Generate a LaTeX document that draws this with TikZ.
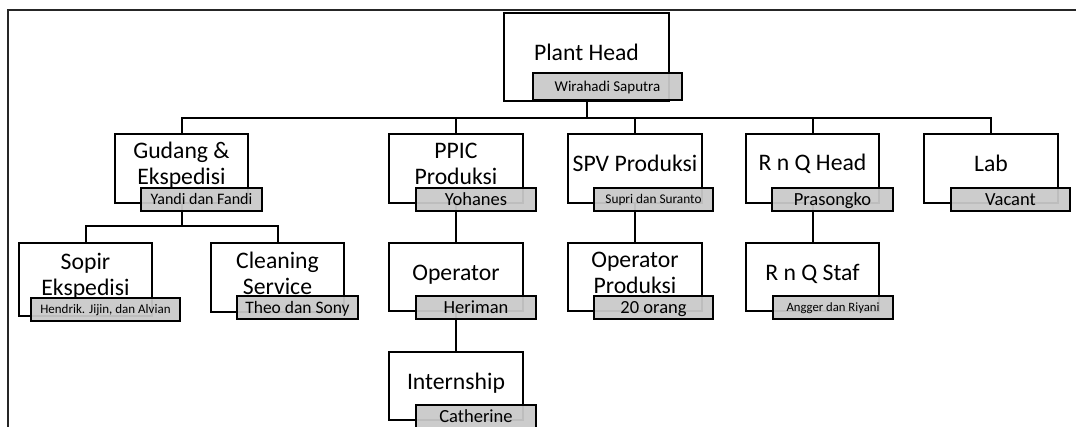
\documentclass[tikz,border=0pt]{standalone}
\usepackage{fontspec}
\setmainfont{Carlito}
\usetikzlibrary{backgrounds}
\newcommand{\twoline}[2]{\vtop{\hbox to 0pt{\hss#1\hss}\hbox to 0pt{\hss#2\hss}}}
\tikzset{
  unitbox/.style={draw, line width=2pt, fill=white, anchor=north west, inner sep=0pt, outer sep=0pt,
    minimum width=134pt, minimum height=69pt},
  tagbox/.style={draw, line width=2.4pt, fill=black!21, fill opacity=0.94, text opacity=1, draw opacity=1,
    anchor=north west, inner sep=0pt, outer sep=0pt, minimum height=23pt, text depth=0pt},
  bigtag/.style={tagbox, font=\fontsize{18.5}{20}\selectfont, text height=11.7pt},
  title/.style={anchor=base, inner sep=0pt, font=\fontsize{23.7}{26}\selectfont},
  conn/.style={line width=2pt, line cap=rect},
  frame/.style={line width=1.5pt, black!85}
}
\begin{document}
\begin{tikzpicture}[x=1pt,y=-1pt]
\useasboundingbox (0,0) rectangle (1076,426);
\draw[frame] (8,430) -- (8,10) -- (1080,10);

% row 0
\node[unitbox, minimum width=165pt, minimum height=88pt] (ph) at (504,13) {};
\node[title] (ph-t) at ([yshift=-47pt]ph.north) {Plant Head};
\node[tagbox, minimum width=149pt, minimum height=27pt, font=\fontsize{15}{17}\selectfont, text height=9.5pt] (ph-n) at (533,73) {Wirahadi Saputra};

% row 1
\node[unitbox, minimum width=133pt] (gud) at (115,134) {};
\node[title] (gud-t) at ([yshift=-24pt]gud.north) {\twoline{Gudang \&}{Ekspedisi}};
\node[tagbox, minimum width=121pt, font=\fontsize{16}{18}\selectfont, text height=10.1pt] (gud-n) at (141,188) {Yandi dan Fandi};

\node[unitbox] (ppic) at (389,134) {};
\node[title] (ppic-t) at ([yshift=-24pt]ppic.north) {\twoline{PPIC}{Produksi}};
\node[bigtag, minimum width=120pt] (ppic-n) at (416,188) {Yohanes};

\node[unitbox] (spv) at (568,134) {};
\node[title] (spv-t) at ([yshift=-37pt]spv.north) {SPV Produksi};
\node[tagbox, minimum width=119pt, font=\fontsize{13.3}{15}\selectfont, text height=8.4pt] (spv-n) at (594,188) {Supri dan Suranto};

\node[unitbox, minimum width=133pt] (rnq) at (746,134) {};
\node[title] (rnq-t) at ([yshift=-36pt]rnq.north) {R n Q Head};
\node[bigtag, minimum width=121pt] (rnq-n) at (772,188) {Prasongko};

\node[unitbox] (lab) at (924,134) {};
\node[title] (lab-t) at ([yshift=-37pt]lab.north) {Lab};
\node[bigtag, minimum width=119pt] (lab-n) at (951,188) {Vacant};

% row 2
\node[unitbox, minimum width=133pt, minimum height=73pt] (sop) at (19,243) {};
\node[title] (sop-t) at ([yshift=-26pt]sop.north) {\twoline{Sopir}{Ekspedisi}};
\node[tagbox, minimum width=149pt, font=\fontsize{13}{15}\selectfont, text height=8.2pt] (sop-n) at (31,298) {Hendrik. Jijin, dan Alvian};

\node[unitbox, minimum width=133pt] (cln) at (211,243) {};
\node[title] (cln-t) at ([yshift=-25pt]cln.north) {\twoline{Cleaning}{Service}};
\node[tagbox, minimum width=121pt, font=\fontsize{17.5}{19}\selectfont, text height=11pt] (cln-n) at (237,296) {Theo dan Sony};

\node[unitbox, minimum height=68pt] (opr) at (389,243) {};
\node[title] (opr-t) at ([yshift=-37pt]opr.north) {Operator};
\node[bigtag, minimum width=120pt] (opr-n) at (416,296) {Heriman};

\node[unitbox, minimum height=68pt] (opp) at (568,243) {};
\node[title] (opp-t) at ([yshift=-24pt]opp.north) {\twoline{Operator}{Produksi}};
\node[bigtag, minimum width=119pt] (opp-n) at (594,296) {20 orang};

\node[unitbox, minimum width=133pt, minimum height=68pt] (rqs) at (746,243) {};
\node[title] (rqs-t) at ([yshift=-37pt]rqs.north) {R n Q Staf};
\node[tagbox, minimum width=120pt, font=\fontsize{12.7}{14}\selectfont, text height=8pt] (rqs-n) at (773,296) {Angger dan Riyani};

% row 3
\node[unitbox, minimum height=68pt] (int) at (389,352) {};
\node[title] (int-t) at ([yshift=-37pt]int.north) {Internship};
\node[bigtag, minimum width=120pt] (int-n) at (416,405) {Catherine};

\coordinate (bus1) at (587,118);
\coordinate (bus2) at (182,226);

\begin{scope}[on background layer]
\draw[conn] (ph.south) -- (ph.south |- bus1);
\draw[conn] (gud.north) -- (gud.north |- bus1) -- (lab.north |- bus1) -- (lab.north);
\draw[conn] (ppic.north) -- (ppic.north |- bus1);
\draw[conn] (spv.north) -- (spv.north |- bus1);
\draw[conn] (rnq.north) -- (rnq.north |- bus1);
\draw[conn] (gud.south) -- (gud.south |- bus2);
\draw[conn] (sop.north) -- (sop.north |- bus2) -- (cln.north |- bus2) -- (cln.north);
\draw[conn] (ppic.south) -- (opr.north);
\draw[conn] (opr.south) -- (int.north);
\draw[conn] (spv.south) -- (opp.north);
\draw[conn] (rnq.south) -- (rqs.north);
\end{scope}
\end{tikzpicture}
\end{document}
